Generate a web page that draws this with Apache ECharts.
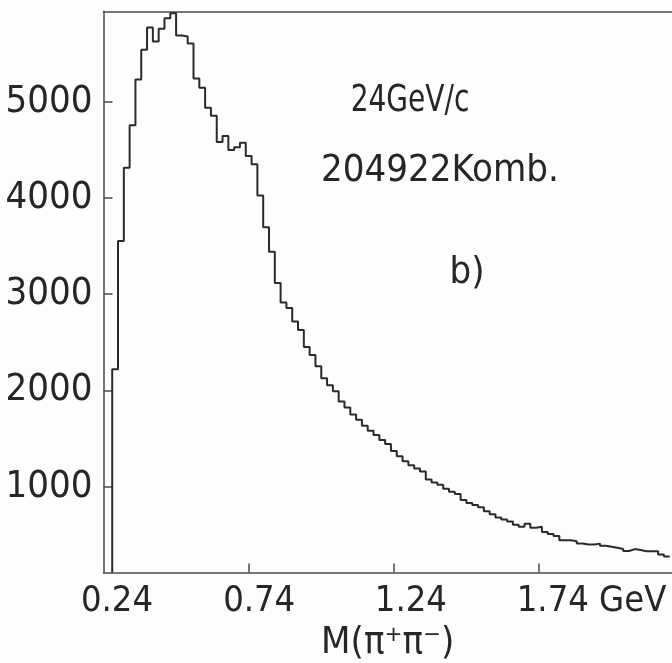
<!DOCTYPE html>
<html>
<head>
<meta charset="utf-8">
<script src="https://cdn.jsdelivr.net/npm/echarts@6/dist/echarts.min.js"></script>
<style>
html,body{margin:0;padding:0;background:#fdfdfd;}
#c{width:672px;height:663px;}
</style>
</head>
<body>
<div id="c"></div>
<script>
// ---- data ----
const binStart = 0.27;      // GeV, left edge of first bin
const binWidth = 0.02;      // GeV
const counts = [2220,3552,4313,4756,5229,5540,5771,5625,5756,5866,5917,5687,5677,5603,5239,5144,
  4937,4853,4581,4643,4497,4527,4573,4436,4349,4026,3696,3440,3117,2915,2856,2716,
  2629,2452,2368,2253,2128,2054,1991,1887,1823,1750,1697,1634,1581,1539,1487,1444,
  1371,1318,1266,1223,1191,1159,1076,1044,1022,980,948,926,863,832,810,788,
  746,714,682,660,639,607,586,617,574,584,531,510,488,445,444,434,412,401,400,410,
  388,377,366,355,333,353,343,331,330,330,298,276];
const xTickValues = [0.24, 0.74, 1.24, 1.74];
const xTickLabels = ['0.24', '0.74', '1.24', '1.74 GeV'];
const yTickValues = [1000, 2000, 3000, 4000, 5000];
const xAxisTitle = 'M(π⁺π⁻)';
const annotations = ['24GeV/c', '204922Komb.', 'b)'];

// ---- chart ----
const FONT = '"DejaVu Sans Condensed", "DejaVu Sans", sans-serif';
const INK = '#262626';
const AX = '#4a4a4a';
const yMin = 110, yMax = 5936, xMin = 0.24, xMax = 2.198;

const data = [[binStart, yMin]];
for (let i = 0; i < counts.length; i++) {
  data.push([+(binStart + i * binWidth).toFixed(3), counts[i]]);
}
data.push([+(binStart + counts.length * binWidth).toFixed(3), counts[counts.length - 1]]);

const prefixW = [27, 21, 34, 105];
const rich = {};
prefixW.forEach((w, i) => { rich['p' + i] = { width: w, fontSize: 36, fontFamily: FONT }; });
rich.t = { fontSize: 36, fontFamily: FONT, color: INK };

const chart = echarts.init(document.getElementById('c'), null, { renderer: 'canvas' });
chart.setOption({
  animation: false,
  backgroundColor: '#fdfdfd',
  grid: { left: 103.5, top: 11.5, right: 0, height: 561, containLabel: false, outerBoundsMode: 'none' },
  xAxis: [{
    type: 'value', min: xMin, max: xMax, position: 'bottom',
    axisLine: { show: true, onZero: false, lineStyle: { color: AX, width: 1.5 } },
    splitLine: { show: false },
    axisTick: { show: true, inside: true, length: 9, customValues: xTickValues.slice(1), lineStyle: { color: AX, width: 1.5 } },
    axisLabel: {
      customValues: xTickValues, margin: 11, color: INK, fontSize: 36, fontFamily: FONT,
      formatter: function (v) {
        const i = xTickValues.findIndex(t => Math.abs(t - v) < 1e-6);
        if (i < 0) return '';
        return '{p' + i + '| }{t|' + xTickLabels[i] + '}';
      },
      rich: rich
    },
    name: xAxisTitle, nameLocation: 'middle', nameGap: 50,
    nameTextStyle: { fontSize: 38, fontFamily: FONT, color: INK }
  }, {
    type: 'value', min: xMin, max: xMax, position: 'top',
    axisLine: { show: true, onZero: false, lineStyle: { color: AX, width: 1.5 } },
    axisTick: { show: false }, axisLabel: { show: false }, splitLine: { show: false }
  }],
  yAxis: {
    type: 'value', min: yMin, max: yMax,
    axisLine: { show: true, onZero: false, lineStyle: { color: AX, width: 1.5 } },
    splitLine: { show: false },
    axisTick: { show: true, inside: true, length: 9, customValues: yTickValues, lineStyle: { color: AX, width: 1.5 } },
    axisLabel: { customValues: yTickValues, margin: 11, color: INK, fontSize: 38, fontFamily: FONT,
      formatter: function (v) { return String(Math.round(v)); } }
  },
  series: [{
    type: 'line', step: 'end', data: data, symbol: 'none', xAxisIndex: 0,
    lineStyle: { color: '#2a2a2a', width: 2 }
  }],
  graphic: [
    { type: 'text', x: 410, y: 101, scaleX: 0.82, style: { text: annotations[0], fill: INK, fontSize: 38, fontFamily: FONT, align: 'center', verticalAlign: 'middle' } },
    { type: 'text', x: 440, y: 171, style: { text: annotations[1], fill: INK, fontSize: 38, fontFamily: FONT, align: 'center', verticalAlign: 'middle' } },
    { type: 'text', x: 467, y: 273, style: { text: annotations[2], fill: INK, fontSize: 38, fontFamily: FONT, align: 'center', verticalAlign: 'middle' } }
  ]
});
</script>
</body>
</html>
